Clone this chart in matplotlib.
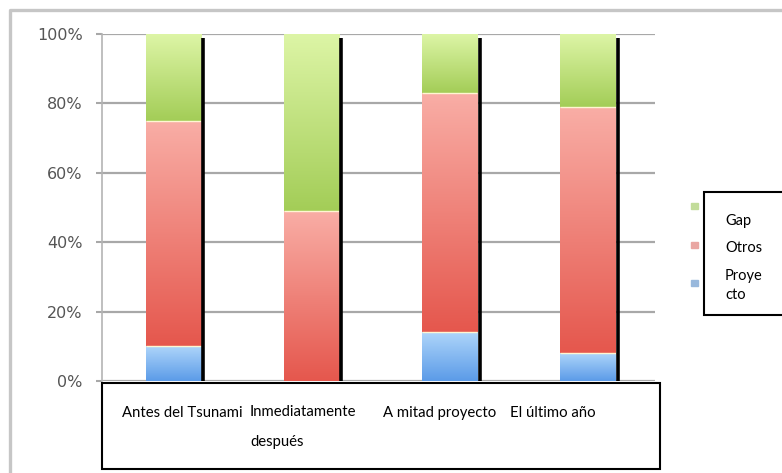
import matplotlib
matplotlib.use('Agg')
import matplotlib.pyplot as plt
from matplotlib.colors import LinearSegmentedColormap
from matplotlib.patches import Rectangle
from matplotlib.lines import Line2D
import numpy as np

# --- data (percent of total) ---
categories = ['Antes del Tsunami', 'Inmediatamente\ndespués', 'A mitad proyecto', 'El último año']
proyecto = np.array([10, 0, 14, 8])
otros = np.array([65, 49, 69, 71])
gap = np.array([25, 51, 17, 21])
legend_names = ['Gap', 'Otros', 'Proye\ncto']
y_ticks = [0, 20, 40, 60, 80, 100]

# gradient colours, top -> bottom
GRAD = {
    'gap': ('#ddf5a6', '#a3cd57'),
    'otros': ('#f9aea6', '#e5574d'),
    'proyecto': ('#aed5fa', '#5b9be8'),
}
MARK = {'gap': '#c2dc9a', 'otros': '#e9a6a2', 'proyecto': '#98b8dc'}

W, H = 782, 473
fig = plt.figure(figsize=(W / 100, H / 100), dpi=100)
fig.patch.set_facecolor('white')


def fx(px):
    return px / W


def fy(py):
    return 1 - py / H


ax = fig.add_axes([fx(102), fy(381), fx(655) - fx(102), fy(34) - fy(381)])
x = np.arange(len(categories))
bw = 0.4

stacks = [
    ('proyecto', proyecto / 100, np.zeros(len(x))),
    ('otros', otros / 100, proyecto / 100),
    ('gap', gap / 100, (proyecto + otros) / 100),
]
grad = np.linspace(0, 1, 256).reshape(-1, 1)
for key, vals, bottom in stacks:
    bars = ax.bar(x, vals, bw, bottom=bottom, color='none', edgecolor='none', zorder=2)
    cmap = LinearSegmentedColormap.from_list(key, GRAD[key])
    for p in bars.patches:
        if p.get_height() <= 0:
            continue
        bb = p.get_bbox()
        im = ax.imshow(grad, cmap=cmap, aspect='auto', origin='upper',
                       extent=(bb.x0, bb.x1, bb.y0, bb.y1), zorder=2)
        im.set_clip_path(p)
    # pale seam on top of each segment
    top = bottom + vals
    for xi, t, v in zip(x, top, vals):
        if v > 0 and t < 0.999:
            ax.hlines(t, xi - bw / 2, xi + bw / 2, color='#fff6d2', lw=1.0, zorder=3)

# dark edge on the right side of every column
ax.vlines(x + bw / 2 + 0.016, 0, 0.988, color='black', lw=2.6, zorder=4)

ax.set_xlim(-0.515, 3.485)
ax.set_ylim(0, 1)
ax.set_yticks([t / 100 for t in y_ticks])
ax.set_yticklabels([f'{t}%' for t in y_ticks], fontsize=11.5, color='#555555')
ax.tick_params(axis='y', length=4, width=1.5, color='#a8a8a8', pad=10)
ax.set_xticks([])
ax.grid(axis='y', color='#a8a8a8', lw=1.6, zorder=0)
ax.set_axisbelow(True)
for s in ['top', 'right', 'bottom']:
    ax.spines[s].set_visible(False)
ax.spines['left'].set_color('#b4b4b4')
ax.spines['left'].set_linewidth(1.2)

# outer chart frame
fig.add_artist(Line2D([fx(10), fx(10), fx(782)], [fy(473), fy(10), fy(10)],
                      color='#c6c6c6', lw=2.4, transform=fig.transFigure))

# small legend swatches
for key, yy in zip(['gap', 'otros', 'proyecto'], [206, 245, 283]):
    fig.add_artist(Rectangle((fx(691), fy(yy + 3)), fx(7), 6 / H,
                             color=MARK[key], transform=fig.transFigure, zorder=5))

# category text box
fig.add_artist(Rectangle((fx(102), fy(469)), fx(660) - fx(102), (469 - 383) / H,
                         facecolor='white', edgecolor='black', lw=1.5,
                         transform=fig.transFigure, zorder=6))
label_left = [122, 250, 383, 510]
for lab, lx in zip(categories, label_left):
    two_lines = '\n' in lab
    fig.text(fx(lx), fy(427) if two_lines else fy(413), lab, ha='left', va='center',
             fontsize=10.7, family='Lato', color='black', linespacing=2.4, zorder=7)

# legend text box
fig.add_artist(Rectangle((fx(704), fy(315)), fx(90), (315 - 192) / H,
                         facecolor='white', edgecolor='black', lw=1.5,
                         transform=fig.transFigure, zorder=6, clip_on=False))
for name, yy in zip(legend_names, [221, 248, 285.5]):
    fig.text(fx(725), fy(yy), name, ha='left', va='center',
             fontsize=10.5, family='Lato', color='black', linespacing=1.45, zorder=7)

fig.savefig('out.png', dpi=100, facecolor='white')
